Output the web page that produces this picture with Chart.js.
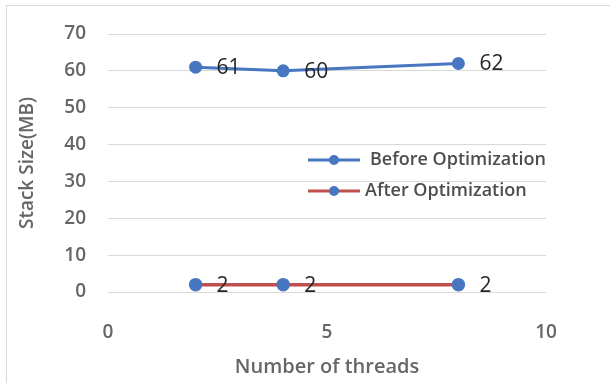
<!DOCTYPE html>
<html>
<head>
<meta charset="utf-8">
<script src="https://cdn.jsdelivr.net/npm/chart.js@4.4.1/dist/chart.umd.min.js"></script>
<style>
  html, body { margin: 0; padding: 0; background: #fff; }
  #wrap { position: relative; width: 610px; height: 383px; overflow: hidden; }
  #frame { position: absolute; left: 6px; top: 5px; width: 700px; height: 500px;
           border-top: 1px solid #d9d9d9; border-left: 1px solid #d9d9d9; }
  canvas { position: absolute; left: 0; top: 0; }
</style>
</head>
<body>
<div id="wrap">
  <div id="frame"></div>
  <canvas id="chart" width="610" height="383"></canvas>
</div>
<script>
// Stack size measured for each thread count
const threads = [2, 4, 8];
const beforeOptimization = [61, 60, 62];
const afterOptimization = [2, 2, 2];
const seriesNames = ['Before Optimization', 'After Optimization'];
const xTicks = [0, 5, 10];
const yTicks = [0, 10, 20, 30, 40, 50, 60, 70];

const FONT = '"Open Sans", Lato, sans-serif';
const BLUE = '#4677c0';
const RED = '#c0504d';

const toPoints = (xs, ys) => xs.map((x, i) => ({ x: x, y: ys[i] }));

// Value labels to the right of each point
const valueLabels = {
  id: 'valueLabels',
  afterDatasetsDraw(chart) {
    const ctx = chart.ctx;
    ctx.save();
    ctx.font = '21px ' + FONT;
    ctx.fillStyle = '#262626';
    ctx.textAlign = 'left';
    ctx.textBaseline = 'middle';
    chart.data.datasets.forEach((ds, di) => {
      const meta = chart.getDatasetMeta(di);
      meta.data.forEach((pt, i) => {
        ctx.fillText(String(ds.data[i].y), pt.x + 21, pt.y + 1);
      });
    });
    ctx.restore();
  }
};

// Legend drawn inside the plot area, right side
const innerLegend = {
  id: 'innerLegend',
  afterDraw(chart) {
    const ctx = chart.ctx;
    const area = chart.chartArea;
    const x0 = area.left + 200;
    const rows = [area.top + 126, area.top + 157];
    ctx.save();
    ctx.font = '600 18px ' + FONT;
    ctx.textBaseline = 'middle';
    ctx.textAlign = 'left';
    chart.data.datasets.forEach((ds, i) => {
      const y = rows[i];
      ctx.strokeStyle = ds.borderColor;
      ctx.lineWidth = 3;
      ctx.beginPath();
      ctx.moveTo(x0, y);
      ctx.lineTo(x0 + 52, y);
      ctx.stroke();
      ctx.fillStyle = ds.pointBackgroundColor;
      ctx.beginPath();
      ctx.arc(x0 + 26, y, 5, 0, Math.PI * 2);
      ctx.fill();
      ctx.fillStyle = '#4d4d4d';
      ctx.fillText(ds.label, x0 + 62 - i * 5, y);
    });
    ctx.restore();
  }
};

new Chart(document.getElementById('chart'), {
  type: 'line',
  data: {
    datasets: [
      {
        label: seriesNames[0],
        data: toPoints(threads, beforeOptimization),
        borderColor: BLUE,
        borderWidth: 3,
        pointBackgroundColor: BLUE,
        pointBorderColor: BLUE,
        pointRadius: 5,
        tension: 0
      },
      {
        label: seriesNames[1],
        data: toPoints(threads, afterOptimization),
        borderColor: RED,
        borderWidth: 3.5,
        pointBackgroundColor: BLUE,
        pointBorderColor: BLUE,
        pointRadius: 5,
        tension: 0
      }
    ]
  },
  options: {
    responsive: false,
    animation: false,
    layout: { padding: { left: 0, right: 64, top: 34, bottom: 0 } },
    plugins: {
      legend: { display: false },
      tooltip: { enabled: false }
    },
    scales: {
      x: {
        type: 'linear',
        min: 0, max: 10,
        afterBuildTicks(scale) { scale.ticks = xTicks.map(v => ({ value: v })); },
        afterFit(scale) { scale.height = 91; },
        grid: { display: false, drawTicks: false },
        border: { display: false },
        ticks: { color: '#666666', font: { family: FONT, size: 19, weight: 600 }, padding: 29, maxRotation: 0 },
        title: {
          display: true, text: 'Number of threads', color: '#666666',
          font: { family: FONT, size: 20, weight: 600 }, padding: { top: 0, bottom: 4 }
        }
      },
      y: {
        min: 0, max: 70,
        afterBuildTicks(scale) { scale.ticks = yTicks.map(v => ({ value: v })); },
        afterFit(scale) { scale.width = 108; },
        grid: { color: '#d9d9d9', lineWidth: 1, drawTicks: false },
        border: { display: false },
        ticks: { color: '#666666', font: { family: FONT, size: 19, weight: 600 }, padding: 22 },
        title: {
          display: true, text: 'Stack Size(MB)', color: '#666666',
          font: { family: FONT, size: 19, weight: 600 }, padding: { top: 16, bottom: 16 }
        }
      }
    }
  },
  plugins: [valueLabels, innerLegend]
});
</script>
</body>
</html>
